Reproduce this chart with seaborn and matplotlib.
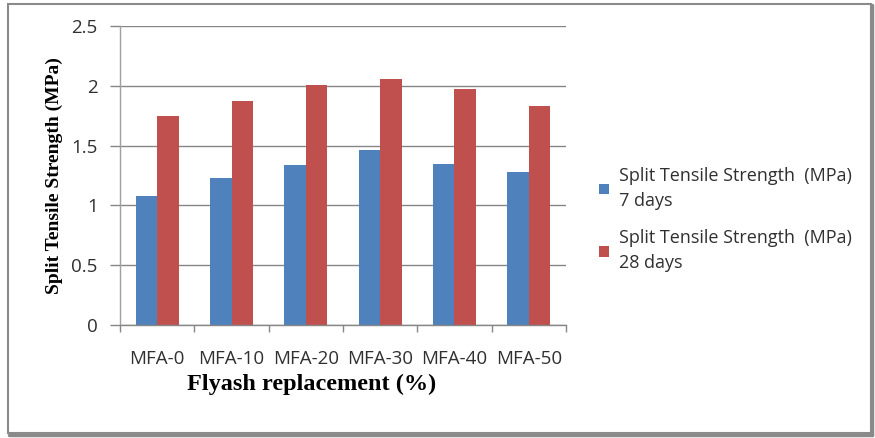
import matplotlib
matplotlib.use("Agg")
import matplotlib.pyplot as plt
import seaborn as sns
import pandas as pd
from matplotlib.patches import Rectangle, Patch
from matplotlib.lines import Line2D

categories = ["MFA-0", "MFA-10", "MFA-20", "MFA-30", "MFA-40", "MFA-50"]
days7 = [1.08, 1.23, 1.34, 1.46, 1.35, 1.28]
days28 = [1.75, 1.87, 2.01, 2.06, 1.97, 1.83]
series = ["Split Tensile Strength  (MPa)\n7 days", "Split Tensile Strength  (MPa)\n28 days"]
colors = ["#4F81BD", "#C0504D"]
yticks = [0, 0.5, 1, 1.5, 2, 2.5]
ytick_labels = ["0", "0.5", "1", "1.5", "2", "2.5"]

df = pd.DataFrame({
    "cat": categories * 2,
    "val": days7 + days28,
    "series": [series[0]] * len(categories) + [series[1]] * len(categories),
})

sns.set_theme(style="white")
plt.rcParams['font.family'] = ['Open Sans', 'DejaVu Sans']

fig = plt.figure(figsize=(8.75, 4.38), dpi=100)
W, H = 875, 438
ax = fig.add_axes([120 / W, 1 - 325 / H, (566 - 120) / W, (325 - 26) / H])

sns.barplot(data=df, x="cat", y="val", hue="series", palette=colors,
            width=0.58, ax=ax, legend=False, saturation=1, edgecolor="none")

ax.set_xlim(-0.5, 5.5)
ax.set_ylim(0, 2.5)
ax.set_yticks(yticks)
ax.set_yticklabels(ytick_labels)
ax.yaxis.grid(True, color="#868686", linewidth=1)
ax.set_axisbelow(True)
for s in ["top", "right"]:
    ax.spines[s].set_visible(False)
ax.spines["left"].set_color("#A0A0A0")
ax.spines["bottom"].set_color("#868686")
ax.spines["left"].set_linewidth(1)
ax.spines["bottom"].set_linewidth(1)

ax.set_xticks(range(len(categories)))
ax.set_xticklabels(categories)
ax.set_xticks([i - 0.5 for i in range(len(categories) + 1)], minor=True)
ax.tick_params(axis="x", which="major", length=0, pad=18, labelsize=13.5, colors="#303030")
ax.tick_params(axis="x", which="minor", length=5, width=1, color="#868686", direction="out", bottom=True)
ax.tick_params(axis="y", which="major", length=7, width=1, color="#868686", direction="out",
               left=True, pad=9, labelsize=13.5, labelcolor="#303030")

ax.set_xlabel("Flyash replacement (%)", family=["Liberation Serif"], fontweight="bold",
              fontsize=17.5, labelpad=4, color="black")
ax.xaxis.set_label_coords((312 - 120) / 446, -(384 - 325) / 299)
ax.xaxis.label.set_va("center")
ax.set_ylabel("Split Tensile Strength (MPa)", family=["Liberation Serif"], fontweight="bold",
              fontsize=14, labelpad=6, color="black")

handles = [Patch(facecolor=c, edgecolor="none") for c in colors]
leg = fig.legend(handles, series, loc="upper left", bbox_to_anchor=(592 / W, 1 - 160 / H),
                 frameon=False, handlelength=0.55, handleheight=0.55,
                 handletextpad=0.55, labelspacing=1.1, borderaxespad=0,
                 prop={"family": ["Open Sans", "DejaVu Sans"], "size": 13})
for t in leg.get_texts():
    t.set_linespacing(1.45)
    t.set_color("#303030")

# outer border with shadow
fig.patches.append(Rectangle((8 / W, 1 - 433 / H), (871 - 8) / W, (433 - 4) / H,
                             transform=fig.transFigure, fill=False,
                             edgecolor="#8A8A8A", linewidth=1.5, zorder=10))
fig.lines.append(Line2D([872 / W, 872 / W], [1 - 435 / H, 1 - 5 / H], transform=fig.transFigure,
                        color="#8A8A8A", linewidth=2.5))
fig.lines.append(Line2D([9 / W, 872 / W], [1 - 435 / H, 1 - 435 / H], transform=fig.transFigure,
                        color="#8A8A8A", linewidth=2.5))

fig.savefig("out.png", dpi=100, facecolor="white")
